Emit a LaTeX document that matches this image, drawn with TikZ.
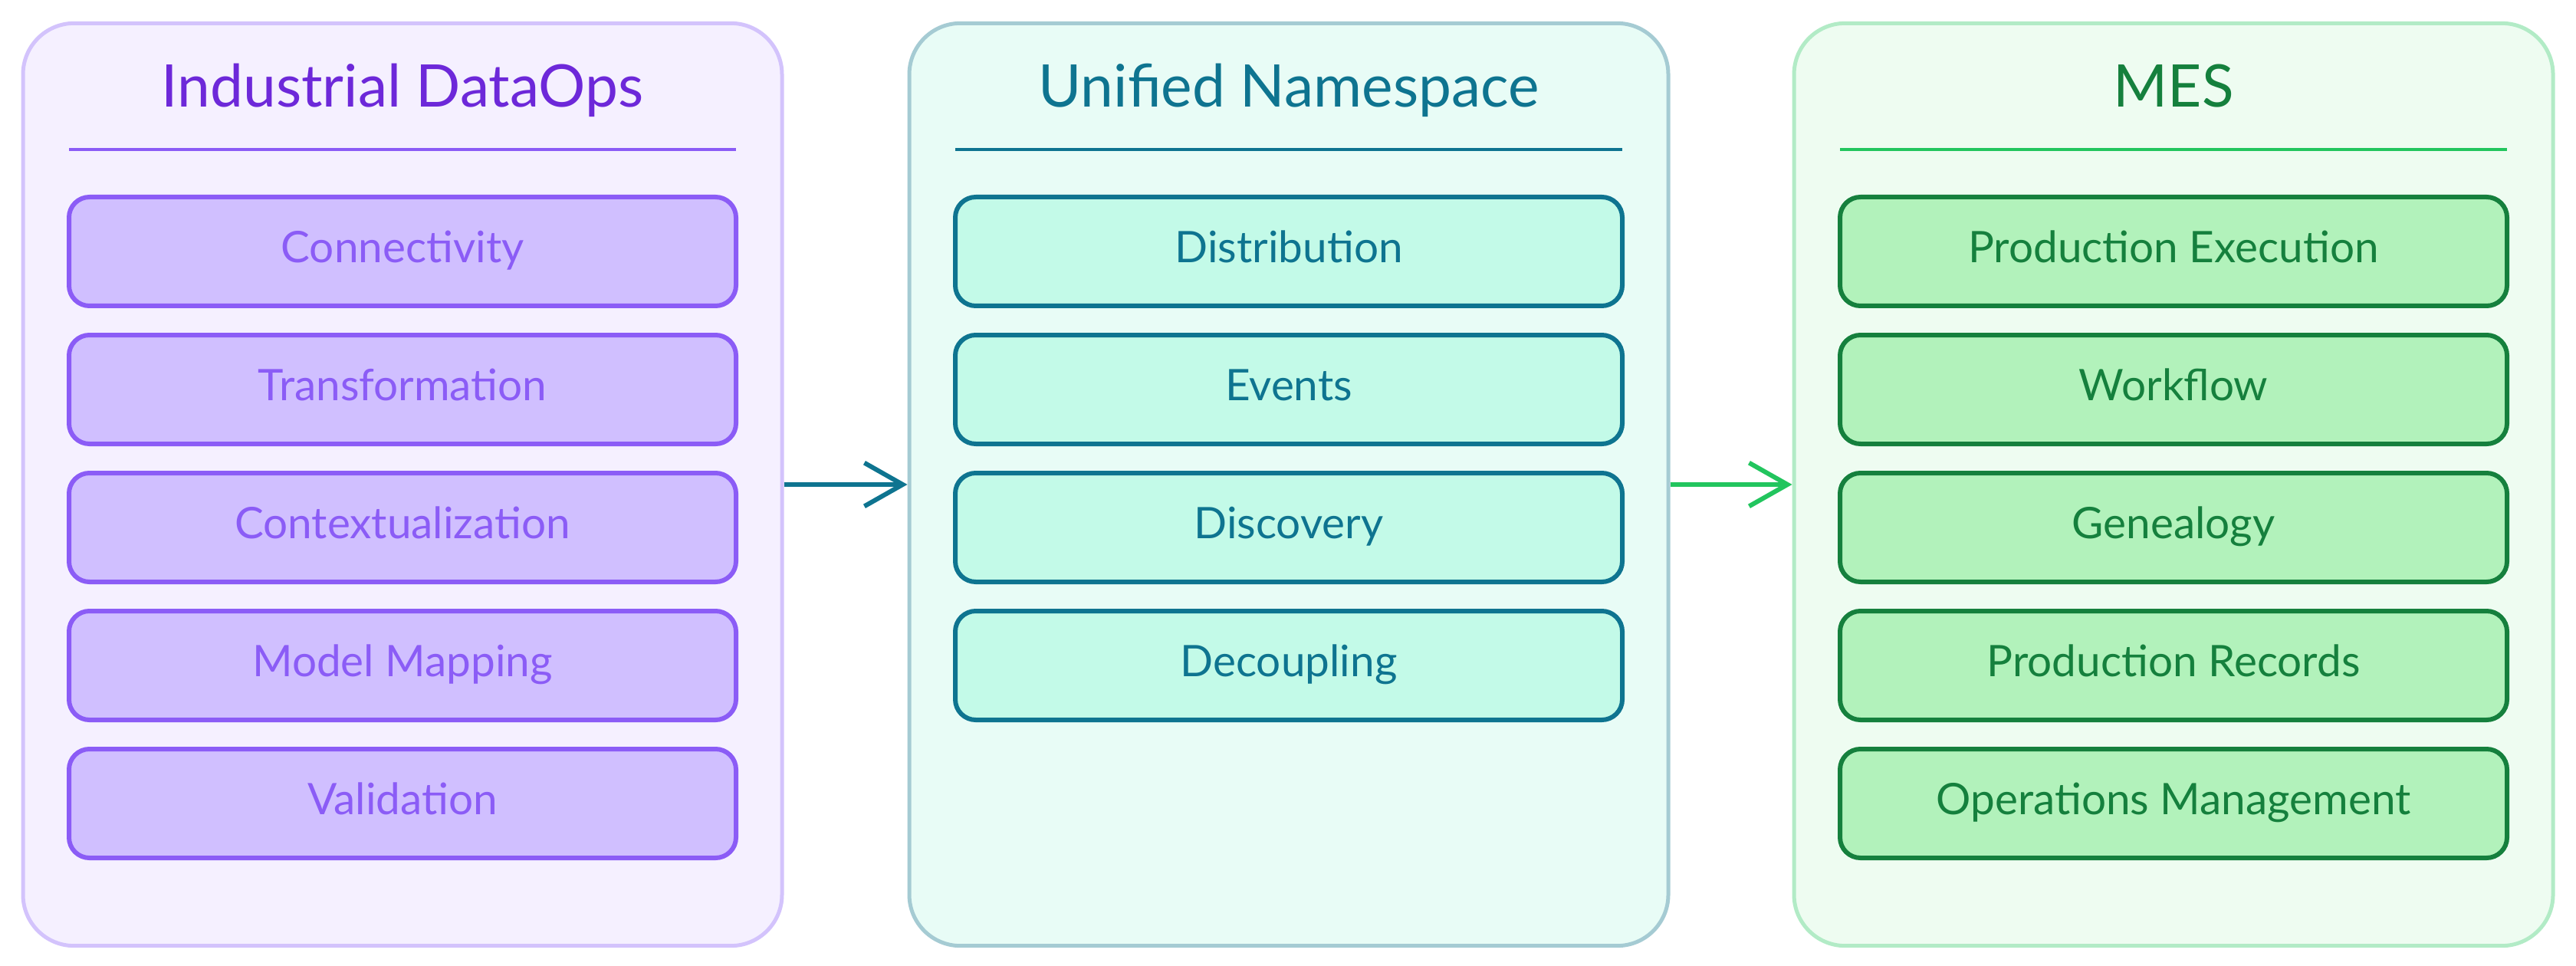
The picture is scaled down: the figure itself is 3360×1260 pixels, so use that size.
\documentclass[tikz,border=0pt]{standalone}
\usepackage{fontspec}
\setmainfont{Lato}
\usetikzlibrary{arrows.meta}
\usepackage{xcolor}

\definecolor{violetpanel}{HTML}{F5F0FF}
\definecolor{violetedge}{HTML}{D3C3FC}
\definecolor{violetbox}{HTML}{D0BFFF}
\definecolor{violetline}{HTML}{8B5CF6}
\definecolor{violettitle}{HTML}{6D28D9}
\definecolor{tealpanel}{HTML}{E8FCF6}
\definecolor{tealedge}{HTML}{A5CBD3}
\definecolor{tealbox}{HTML}{C3FAE8}
\definecolor{tealline}{HTML}{0E7490}
\definecolor{greenpanel}{HTML}{EEFCF1}
\definecolor{greenedge}{HTML}{B2EBC6}
\definecolor{greenbox}{HTML}{B2F2BB}
\definecolor{greenline}{HTML}{15803D}
\definecolor{greenarrow}{HTML}{22C55E}

\begin{document}
\begin{tikzpicture}[x=0.3pt,y=0.3pt,yscale=-1,xscale=1,
	panel/.style={draw,rounded corners=20pt,line width=1.5pt,minimum width=297pt,minimum height=361pt,inner sep=0pt},
	item/.style={draw,rounded corners=8pt,line width=1.8pt,minimum width=261pt,minimum height=42.6pt,inner sep=0pt,font=\fontsize{17}{19}\selectfont,text height=1em,text depth=0.15em},
	head/.style={anchor=base,inner sep=0pt,font=\fontsize{23}{26}\selectfont},
	flow/.style={line width=1.8pt,-{Straight Barb[length=15pt,width=17pt,line width=1.8pt]}}]
	\useasboundingbox (0,0) rectangle (3360,1260);

	%Shape: Panel [id:dataops]
	\node [panel,draw=violetedge,fill=violetpanel] (dataops) at (525,632) {};
	%Shape: Panel [id:uns]
	\node [panel,draw=tealedge,fill=tealpanel] (uns) at (1681,632) {};
	%Shape: Panel [id:mes]
	\node [panel,draw=greenedge,fill=greenpanel] (mes) at (2835,632) {};

	% Text Node
	\node [head,text=violettitle] (dataopstitle) at (525,140) {Industrial DataOps};
	% Text Node
	\node [head,text=tealline] (unstitle) at (1681,140) {Unified Namespace};
	% Text Node
	\node [head,text=greenline] (mestitle) at (2835,140) {MES};

	%Straight Lines [id:dividers]
	\draw [violetline,line width=1pt] (90,195) -- (960,195) ;
	\draw [tealline,line width=1pt] (1246,195) -- (2116,195) ;
	\draw [greenarrow,line width=1pt] (2400,195) -- (3270,195) ;

	%Shape: Rectangle [id:dataops items]
	\node [item,draw=violetline,fill=violetbox,text=violetline] (connectivity) at (525,328) {Connectivity};
	\node [item,draw=violetline,fill=violetbox,text=violetline] (transformation) at (525,508) {Transformation};
	\node [item,draw=violetline,fill=violetbox,text=violetline] (contextualization) at (525,688) {Contextualization};
	\node [item,draw=violetline,fill=violetbox,text=violetline] (modelmapping) at (525,868) {Model Mapping};
	\node [item,draw=violetline,fill=violetbox,text=violetline] (validation) at (525,1048) {Validation};

	%Shape: Rectangle [id:uns items]
	\node [item,draw=tealline,fill=tealbox,text=tealline] (distribution) at (1681,328) {Distribution};
	\node [item,draw=tealline,fill=tealbox,text=tealline] (events) at (1681,508) {Events};
	\node [item,draw=tealline,fill=tealbox,text=tealline] (discovery) at (1681,688) {Discovery};
	\node [item,draw=tealline,fill=tealbox,text=tealline] (decoupling) at (1681,868) {Decoupling};

	%Shape: Rectangle [id:mes items]
	\node [item,draw=greenline,fill=greenbox,text=greenline] (execution) at (2835,328) {Production Execution};
	\node [item,draw=greenline,fill=greenbox,text=greenline] (workflow) at (2835,508) {Workflow};
	\node [item,draw=greenline,fill=greenbox,text=greenline] (genealogy) at (2835,688) {Genealogy};
	\node [item,draw=greenline,fill=greenbox,text=greenline] (records) at (2835,868) {Production Records};
	\node [item,draw=greenline,fill=greenbox,text=greenline] (operations) at (2835,1048) {Operations Management};

	%Straight Lines [id:flows]
	\draw [flow,tealline] (dataops.east) -- (uns.west) ;
	\draw [flow,greenarrow] (uns.east) -- (mes.west) ;
\end{tikzpicture}
\end{document}
